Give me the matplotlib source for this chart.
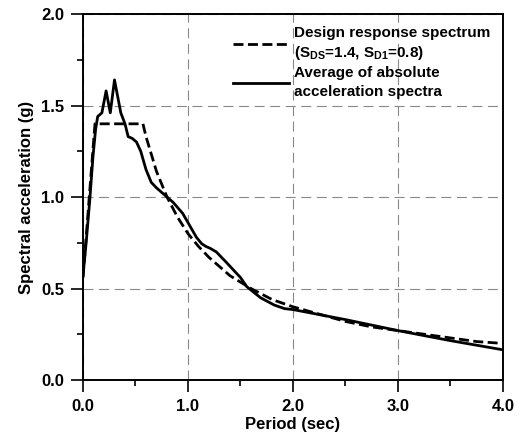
import matplotlib
matplotlib.use("Agg")
import matplotlib.pyplot as plt
from matplotlib.ticker import MultipleLocator

plt.rcParams['font.family'] = 'Liberation Sans'
plt.rcParams['font.weight'] = 'bold'
plt.rcParams['mathtext.fontset'] = 'custom'
plt.rcParams['mathtext.rm'] = 'Liberation Sans:bold'
plt.rcParams['mathtext.it'] = 'Liberation Sans:bold'
plt.rcParams['mathtext.bf'] = 'Liberation Sans:bold'

# design response spectrum
design_T = [0.0, 0.114, 0.571, 0.6, 0.7, 0.8, 0.9, 1.0, 1.1, 1.2, 1.4, 1.6, 1.8,
            2.0, 2.25, 2.5, 2.75, 3.0, 3.25, 3.5, 3.75, 4.0]
design_Sa = [0.56, 1.4, 1.4, 1.33, 1.14, 1.0, 0.89, 0.8, 0.73, 0.67, 0.57, 0.5, 0.44,
             0.4, 0.36, 0.32, 0.29, 0.27, 0.25, 0.23, 0.21, 0.2]

# average of absolute acceleration spectra
avg_T = [0.0, 0.03, 0.064, 0.095, 0.12, 0.14, 0.18, 0.22, 0.26, 0.30, 0.33, 0.36,
         0.40, 0.43, 0.47, 0.51, 0.55, 0.60, 0.65, 0.70, 0.80, 0.86, 0.95, 1.02,
         1.08, 1.13, 1.17, 1.21, 1.27, 1.37, 1.50, 1.56, 1.69, 1.82, 1.92, 2.0, 2.5,
         3.0, 3.5, 4.0]
avg_Sa = [0.57, 0.75, 0.98, 1.22, 1.37, 1.44, 1.46, 1.58, 1.46, 1.64, 1.55, 1.46,
          1.40, 1.33, 1.32, 1.30, 1.25, 1.15, 1.08, 1.05, 1.0, 0.97, 0.91, 0.84,
          0.78, 0.745, 0.73, 0.72, 0.70, 0.64, 0.56, 0.51, 0.45, 0.41, 0.39, 0.385, 0.33,
          0.27, 0.215, 0.165]

label_design = 'Design response spectrum\n(S$_{DS}$=1.4, S$_{D1}$=0.8)'
label_avg = 'Average of absolute\nacceleration spectra'

fig = plt.figure(figsize=(5.22, 4.34), dpi=100)
ax = fig.add_axes([0.159, 0.1244, 0.8046, 0.8433])

ax.plot(design_T, design_Sa, color='black', lw=2.0, linestyle=(0, (3.6, 1.6)),
        label=label_design)
ax.plot(avg_T, avg_Sa, color='black', lw=2.0, label=label_avg)

ax.set_xlim(0, 4)
ax.set_ylim(0, 2)
ax.xaxis.set_major_locator(MultipleLocator(1.0))
ax.xaxis.set_minor_locator(MultipleLocator(0.5))
ax.yaxis.set_major_locator(MultipleLocator(0.5))
ax.yaxis.set_minor_locator(MultipleLocator(0.25))
ax.set_xticklabels(['%.1f' % v for v in ax.get_xticks()])
ax.set_yticklabels(['%.1f' % v for v in ax.get_yticks()])

ax.tick_params(which='major', direction='out', length=8.6, width=1.2,
               labelsize=12, pad=5)
ax.tick_params(which='minor', direction='out', length=4.3, width=1.2)
ax.tick_params(axis='y', which='major', pad=5)

for s in ax.spines.values():
    s.set_linewidth(1.4)

ax.grid(True, which='major', color='#888888', lw=0.8, linestyle=(0, (9, 5)))

ax.set_xlabel('Period (sec)', fontsize=12, fontweight='bold', labelpad=2)
ax.set_ylabel('Spectral acceleration (g)', fontsize=12, fontweight='bold', labelpad=5)

leg = ax.legend(loc='upper right', frameon=False, fontsize=11,
                handlelength=3.7, handletextpad=0.33, labelspacing=0.25,
                borderaxespad=0.4, bbox_to_anchor=(1.0, 1.0))
texts = leg.get_texts()
texts[0].set_linespacing(1.3)
texts[1].set_linespacing(1.45)

fig.savefig('out.png', dpi=100)
